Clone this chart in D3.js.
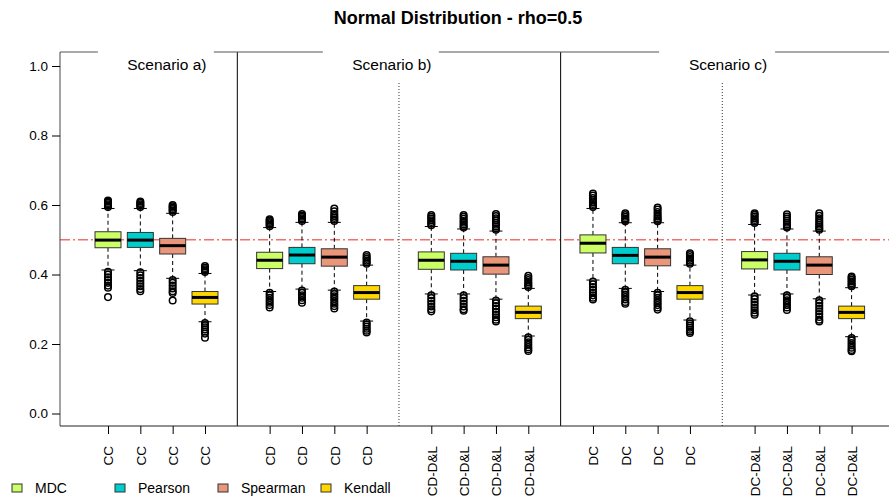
<!DOCTYPE html>
<html>
<head>
<meta charset="utf-8">
<script src="https://cdn.jsdelivr.net/npm/d3@7"></script>
<style>
  body { margin: 0; background: #fff; }
  text { font-family: "Liberation Sans", Arial, Helvetica, sans-serif; }
</style>
</head>
<body>
<svg width="889" height="502"></svg>
<script>
// data
var categories = ['CC', 'CC', 'CC', 'CC',
  'CD', 'CD', 'CD', 'CD',
  'CD-D&L', 'CD-D&L', 'CD-D&L', 'CD-D&L',
  'DC', 'DC', 'DC', 'DC',
  'DC-D&L', 'DC-D&L', 'DC-D&L', 'DC-D&L'];
var methods = ['MDC', 'Pearson', 'Spearman', 'Kendall'];
var methodColors = ['#ccff66', '#00cdcd', '#e9967a', '#ffd700'];
var scenarios = ['Scenario a)', 'Scenario b)', 'Scenario c)'];
var yTicks = [0.0, 0.2, 0.4, 0.6, 0.8, 1.0];
var refLine = 0.5;

var q1 = [0.477, 0.478, 0.459, 0.315,
  0.417, 0.431, 0.424, 0.329,
  0.415, 0.413, 0.401, 0.273,
  0.462, 0.431, 0.425, 0.329,
  0.416, 0.413, 0.400, 0.273];
var median = [0.499, 0.499, 0.483, 0.334,
  0.441, 0.456, 0.450, 0.348,
  0.441, 0.438, 0.427, 0.291,
  0.490, 0.455, 0.450, 0.348,
  0.442, 0.438, 0.427, 0.291];
var q3 = [0.523, 0.521, 0.504, 0.351,
  0.464, 0.478, 0.474, 0.368,
  0.465, 0.461, 0.451, 0.309,
  0.514, 0.478, 0.474, 0.368,
  0.466, 0.461, 0.451, 0.309];
var whiskerLo = [0.413, 0.411, 0.389, 0.264,
  0.351, 0.358, 0.355, 0.266,
  0.344, 0.344, 0.329, 0.223,
  0.384, 0.360, 0.351, 0.269,
  0.341, 0.344, 0.330, 0.221];
var whiskerHi = [0.590, 0.590, 0.576, 0.403,
  0.535, 0.550, 0.550, 0.427,
  0.538, 0.531, 0.525, 0.360,
  0.590, 0.549, 0.549, 0.427,
  0.544, 0.531, 0.525, 0.362];
var outliersHi = [
  [0.594, 0.598, 0.602, 0.606, 0.610, 0.613],
  [0.594, 0.598, 0.602, 0.606, 0.610],
  [0.580, 0.584, 0.588, 0.592, 0.596, 0.600],
  [0.407, 0.411, 0.415, 0.419, 0.424],
  [0.539, 0.543, 0.547, 0.551, 0.555, 0.559],
  [0.554, 0.558, 0.562, 0.566, 0.570, 0.574],
  [0.554, 0.558, 0.563, 0.568, 0.574, 0.582, 0.590],
  [0.431, 0.435, 0.440, 0.445, 0.450, 0.456],
  [0.542, 0.546, 0.551, 0.556, 0.561, 0.566, 0.571],
  [0.535, 0.539, 0.544, 0.549, 0.554, 0.560, 0.566, 0.571],
  [0.529, 0.533, 0.538, 0.543, 0.549, 0.556, 0.562, 0.568, 0.574],
  [0.364, 0.368, 0.373, 0.378, 0.384, 0.390, 0.396],
  [0.594, 0.598, 0.603, 0.608, 0.614, 0.620, 0.627, 0.633],
  [0.553, 0.557, 0.561, 0.566, 0.571, 0.576],
  [0.553, 0.557, 0.562, 0.567, 0.573, 0.580, 0.587, 0.593],
  [0.431, 0.435, 0.440, 0.445, 0.450, 0.456, 0.461],
  [0.548, 0.552, 0.557, 0.562, 0.567, 0.572, 0.576],
  [0.535, 0.539, 0.544, 0.549, 0.555, 0.561, 0.567, 0.573],
  [0.529, 0.533, 0.538, 0.543, 0.549, 0.555, 0.562, 0.569, 0.576],
  [0.366, 0.370, 0.375, 0.380, 0.385, 0.390, 0.394]
];
var outliersLo = [
  [0.408, 0.400, 0.392, 0.384, 0.376, 0.368, 0.362, 0.335],
  [0.406, 0.398, 0.390, 0.382, 0.374, 0.366, 0.358, 0.352],
  [0.384, 0.376, 0.368, 0.360, 0.352, 0.347, 0.325],
  [0.260, 0.254, 0.248, 0.242, 0.236, 0.230, 0.218],
  [0.347, 0.340, 0.333, 0.326, 0.319, 0.312, 0.305],
  [0.354, 0.347, 0.340, 0.333, 0.326, 0.319],
  [0.351, 0.344, 0.337, 0.330, 0.323, 0.316, 0.309, 0.302],
  [0.262, 0.256, 0.250, 0.244, 0.238, 0.233],
  [0.340, 0.332, 0.324, 0.316, 0.308, 0.300, 0.294],
  [0.340, 0.332, 0.324, 0.316, 0.308, 0.300, 0.296],
  [0.325, 0.317, 0.309, 0.301, 0.293, 0.285, 0.277, 0.270, 0.265],
  [0.219, 0.212, 0.205, 0.198, 0.191, 0.185, 0.180],
  [0.380, 0.372, 0.364, 0.356, 0.348, 0.340, 0.333, 0.328],
  [0.356, 0.349, 0.342, 0.335, 0.328, 0.321, 0.316],
  [0.347, 0.340, 0.333, 0.326, 0.319, 0.312, 0.305, 0.299],
  [0.265, 0.259, 0.253, 0.247, 0.241, 0.236, 0.232],
  [0.337, 0.329, 0.321, 0.313, 0.305, 0.297, 0.290, 0.284],
  [0.340, 0.333, 0.326, 0.319, 0.312, 0.305, 0.298],
  [0.326, 0.318, 0.310, 0.302, 0.294, 0.286, 0.278, 0.270, 0.265],
  [0.217, 0.210, 0.203, 0.196, 0.189, 0.183, 0.179]
];

var svg = d3.select('svg');
var plotTop = 52, plotBottom = 426, plotLeft = 60;

// boxes sit at 1..4, 6..9, 11..14 ... with an empty slot between groups
var boxes = categories.map(function (c, i) {
  return {
    label: c,
    pos: i + Math.floor(i / 4) + 1,
    m: i % 4,
    q1: q1[i], med: median[i], q3: q3[i],
    lo: whiskerLo[i], hi: whiskerHi[i],
    out: outliersHi[i].concat(outliersLo[i])
  };
});

var x = d3.scaleLinear().domain([1, 24]).range([108, 851.6]);
var y = d3.scaleLinear().domain([0, 1]).range([413.5, 66]);
var plotRight = x(25.5);
var bw = 26;

// title
svg.append('text')
  .attr('x', 458).attr('y', 24)
  .attr('text-anchor', 'middle')
  .style('font-size', '18px').style('font-weight', 'bold')
  .text('Normal Distribution - rho=0.5');

// reference line
svg.append('line')
  .attr('x1', plotLeft).attr('x2', plotRight)
  .attr('y1', y(refLine)).attr('y2', y(refLine))
  .style('stroke', '#f07070').style('stroke-width', 1.5)
  .style('stroke-dasharray', '10,3,2,3');

// group separators
[5, 15].forEach(function (p) {
  svg.append('line')
    .attr('x1', x(p)).attr('x2', x(p)).attr('y1', plotTop).attr('y2', plotBottom)
    .style('stroke', '#000').style('stroke-width', 1);
});
[10, 20].forEach(function (p) {
  svg.append('line')
    .attr('x1', x(p)).attr('x2', x(p)).attr('y1', 83).attr('y2', plotBottom)
    .style('stroke', '#333').style('stroke-width', 1)
    .style('stroke-dasharray', '1,2');
});

// boxes
var g = svg.append('g').selectAll('g').data(boxes).enter().append('g');

g.append('line')
  .attr('x1', function (d) { return x(d.pos); })
  .attr('x2', function (d) { return x(d.pos); })
  .attr('y1', function (d) { return y(d.q3); })
  .attr('y2', function (d) { return y(d.hi); })
  .style('stroke', '#000').style('stroke-dasharray', '4,3');
g.append('line')
  .attr('x1', function (d) { return x(d.pos); })
  .attr('x2', function (d) { return x(d.pos); })
  .attr('y1', function (d) { return y(d.q1); })
  .attr('y2', function (d) { return y(d.lo); })
  .style('stroke', '#000').style('stroke-dasharray', '4,3');
g.selectAll('line.cap')
  .data(function (d) { return [{ pos: d.pos, v: d.hi }, { pos: d.pos, v: d.lo }]; })
  .enter().append('line')
  .attr('class', 'cap')
  .attr('x1', function (d) { return x(d.pos) - bw / 4; })
  .attr('x2', function (d) { return x(d.pos) + bw / 4; })
  .attr('y1', function (d) { return y(d.v); })
  .attr('y2', function (d) { return y(d.v); })
  .style('stroke', '#000');

g.append('rect')
  .attr('x', function (d) { return x(d.pos) - bw / 2; })
  .attr('y', function (d) { return y(d.q3); })
  .attr('width', bw)
  .attr('height', function (d) { return y(d.q1) - y(d.q3); })
  .style('fill', function (d) { return methodColors[d.m]; })
  .style('stroke', '#333').style('stroke-width', 1);
g.append('line')
  .attr('x1', function (d) { return x(d.pos) - bw / 2; })
  .attr('x2', function (d) { return x(d.pos) + bw / 2; })
  .attr('y1', function (d) { return y(d.med); })
  .attr('y2', function (d) { return y(d.med); })
  .style('stroke', '#000').style('stroke-width', 3);

g.selectAll('circle')
  .data(function (d) { return d.out.map(function (v) { return { pos: d.pos, v: v }; }); })
  .enter().append('circle')
  .attr('cx', function (d) { return x(d.pos); })
  .attr('cy', function (d) { return y(d.v); })
  .attr('r', 3.3)
  .style('fill', 'none').style('stroke', '#000').style('stroke-width', 1.5);

// frame: left, bottom and a top line broken by the scenario labels
var labelPos = [2.82, 9.78, 20.18];
svg.append('line')
  .attr('x1', plotLeft).attr('x2', plotLeft).attr('y1', plotTop).attr('y2', plotBottom)
  .style('stroke', '#444');
svg.append('line')
  .attr('x1', plotLeft).attr('x2', plotRight).attr('y1', plotBottom).attr('y2', plotBottom)
  .style('stroke', '#222');
var cuts = [plotLeft];
labelPos.forEach(function (p) { cuts.push(x(p) - 69, x(p) + 47); });
cuts.push(plotRight);
for (var k = 0; k < cuts.length; k += 2) {
  svg.append('line')
    .attr('x1', cuts[k]).attr('x2', cuts[k + 1]).attr('y1', plotTop).attr('y2', plotTop)
    .style('stroke', '#555');
}
scenarios.forEach(function (s, i) {
  svg.append('text')
    .attr('x', x(labelPos[i])).attr('y', 70)
    .attr('text-anchor', 'middle')
    .style('font-size', '15.5px')
    .text(s);
});

// y axis
var yAxis = svg.append('g')
  .attr('transform', 'translate(' + plotLeft + ',0)')
  .call(d3.axisLeft(y).tickValues(yTicks).tickFormat(d3.format('.1f')).tickSize(8).tickPadding(4));
yAxis.select('.domain').remove();
yAxis.selectAll('text').style('font-size', '13.5px').style('font-family', '"Liberation Sans", Arial, sans-serif');

// x axis
var xAxis = svg.append('g')
  .attr('transform', 'translate(0,' + plotBottom + ')')
  .call(d3.axisBottom(x).tickValues(boxes.map(function (d) { return d.pos; }))
    .tickFormat(function (p, i) { return categories[i]; }).tickSize(8));
xAxis.select('.domain').remove();
xAxis.selectAll('text')
  .style('font-size', '13.5px').style('font-family', '"Liberation Sans", Arial, sans-serif')
  .attr('text-anchor', 'end')
  .attr('transform', 'rotate(-90)')
  .attr('x', -20).attr('y', 0).attr('dy', '0.35em');

// legend
var leg = svg.append('g').selectAll('g').data(methods).enter().append('g')
  .attr('transform', function (d, i) { return 'translate(' + (12 + i * 103) + ',484)'; });
leg.append('rect')
  .attr('width', 10).attr('height', 8)
  .style('fill', function (d, i) { return methodColors[i]; })
  .style('stroke', '#333');
leg.append('text')
  .attr('x', 23).attr('y', 9)
  .style('font-size', '14px')
  .text(function (d) { return d; });
</script>
</body>
</html>
